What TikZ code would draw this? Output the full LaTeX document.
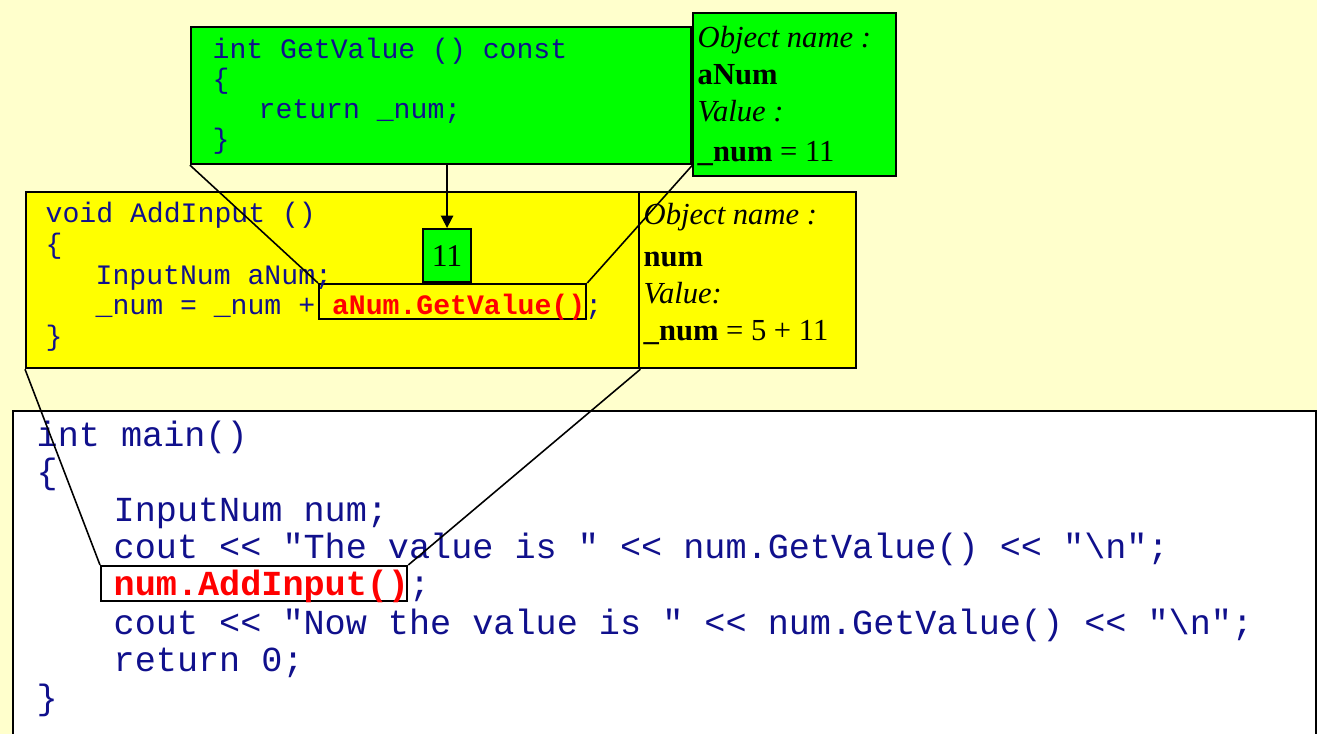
\documentclass[tikz,border=0pt]{standalone}
\usepackage{fontspec}
\setmainfont{Liberation Serif}
\setmonofont{Liberation Mono}
\usetikzlibrary{arrows.meta}

\definecolor{paper}{RGB}{255,255,204}
\definecolor{codeblue}{RGB}{16,16,140}
\definecolor{boxgreen}{RGB}{0,255,0}
\definecolor{boxyellow}{RGB}{255,255,0}

\tikzset{
  box/.style={draw, line width=0.6pt, anchor=north west, inner sep=0pt},
  code/.style={anchor=base west, inner sep=0pt, text=codeblue,
    font=\ttfamily\fontsize{8}{8}\selectfont},
  maincode/.style={code, font=\ttfamily\fontsize{10}{10}\selectfont},
  info/.style={anchor=base west, inner sep=0pt, font=\fontsize{8.7}{9}\selectfont},
  link/.style={line width=0.45pt},
}

\begin{document}
\begin{tikzpicture}[x=0.01cm, y=-0.01cm]
    \useasboundingbox (0,0) rectangle (1317,734);
    \fill[paper] (0,0) rectangle (1317,734);

    % frames
    \node[box, fill=white, minimum width=13.02cm, minimum height=3.4cm] (mainbox) at (12,410) {};
    \node[box, fill=boxyellow, minimum width=6.13cm, minimum height=1.76cm] (addcode) at (25,191) {};
    \node[box, fill=boxyellow, minimum width=2.17cm, minimum height=1.76cm] (addinfo) at (638,191) {};
    \node[box, fill=boxgreen, minimum width=5cm, minimum height=1.37cm] (getbox) at (190,26) {};
    \node[box, fill=boxgreen, minimum width=2.03cm, minimum height=1.63cm] (getinfo) at (692,12) {};
    \node[box, fill=boxgreen, minimum width=0.48cm, minimum height=0.53cm,
      font=\fontsize{9}{9}\selectfont] (val) at (422,228) {11};
    \node[box, minimum width=2.67cm, minimum height=0.35cm] (callbox) at (318,283) {};
    \node[box, minimum width=3.06cm, minimum height=0.35cm] (mcall) at (100,565) {};

    % GetValue
    \node[code] (g1) at (212,59) {int GetValue () const};
    \node[code] (g2) at (212,89) {\{};
    \node[code] (g3) at (258,119) {return \_num;};
    \node[code] (g4) at (212,149) {\}};

    \node[info] (gi1) at (697,48) {\itshape Object name :};
    \node[info] (gi2) at (697,85) {\bfseries aNum};
    \node[info] (gi3) at (697,122) {\itshape Value :};
    \node[info] (gi4) at (697,162) {\textbf{\_num} = 11};

    % AddInput
    \node[code] (a1) at (45,223) {void AddInput ()};
    \node[code] (a2) at (45,254) {\{};
    \node[code] (a3) at (95,285) {InputNum aNum;};
    \node[code] (a4) at (95,315) {\_num = \_num + \textcolor{red}{\bfseries aNum.GetValue()};};
    \node[code] (a5) at (45,346) {\}};

    \node[info] (ai1) at (643,225) {\itshape Object name :};
    \node[info] (ai2) at (643,267) {\bfseries num};
    \node[info] (ai3) at (643,304) {\itshape Value:};
    \node[info] (ai4) at (643,341) {\textbf{\_num} = 5 + 11};

    % main
    \foreach \x/\y/\txt [count=\i] in {36/447/{int main()}, 36/484/{\{},
        113/522/{InputNum num;},
        113/559/{cout << "The value is " << num.GetValue() << "\textbackslash n";},
        113/596/{\textcolor{red}{\bfseries num.AddInput()};},
        113/635/{cout << "Now the value is " << num.GetValue() << "\textbackslash n";},
        113/672/{return 0;}, 36/710/{\}}} {
        \node[maincode] (m\i) at (\x,\y) {\txt};
    }

    % call links
    \draw[link] (getbox.south west) -- (callbox.north west);
    \draw[link] (getbox.south east) -- (callbox.north east);
    \draw[link, -{Triangle[length=3.5pt, width=3.5pt]}] (getbox.south -| val.north) -- (val.north);
    \draw[link] (addcode.south west) -- (mcall.north west);
    \draw[link] (addcode.south east) -- (mcall.north east);
\end{tikzpicture}
\end{document}
